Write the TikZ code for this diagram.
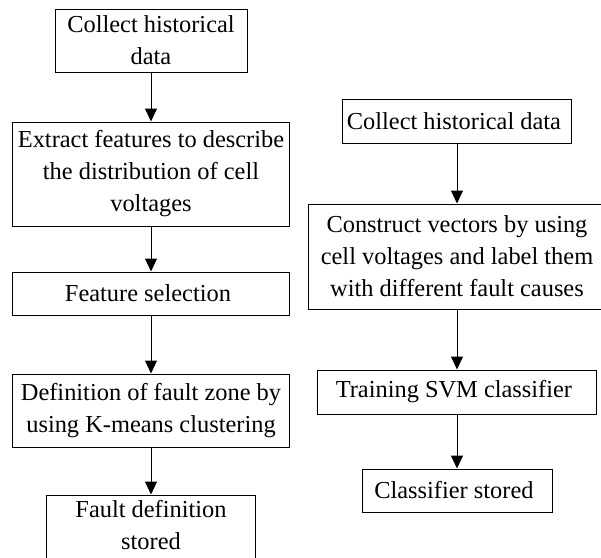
\documentclass[tikz,border=0pt]{standalone}
\usepackage{fontspec}
\setmainfont{Liberation Serif}
\usepackage{tikz}
\usetikzlibrary{arrows.meta,positioning}
\tikzset{
  flow/.style={
    draw,line width=0.5pt,fill=white,
    inner sep=2pt,align=center,
    font=\fontsize{12.2pt}{16pt}\selectfont
  },
  arrow/.style={-{Triangle[length=6.5pt,width=6pt]},line width=0.5pt}
}
\begin{document}
\begin{tikzpicture}
      \useasboundingbox (0,0) rectangle (300.5pt,-279pt);
      \clip (0,0) rectangle (300.5pt,-279pt);
      % left column
      \node[flow,minimum width=96pt,minimum height=31.5pt] (one) at (75.5pt,-20.25pt) {
        Collect historical\\data
      };
      \node[flow,minimum width=138.5pt,minimum height=52pt,below=24.5pt of one] (two) {
        Extract features to describe\\the distribution of cell\\voltages
      };
      \node[flow,minimum width=138.5pt,minimum height=21.5pt,below=22.5pt of two] (three) {
        Feature selection
      };
      \node[flow,minimum width=138.5pt,minimum height=36.5pt,below=29pt of three] (four) {
        Definition of fault zone by\\using K-means clustering
      };
      \node[flow,minimum width=104.5pt,minimum height=36pt,text depth=6pt,below=23.5pt of four] (five) {
        Fault definition\\stored
      };
      % right column
      \node[flow,minimum width=113.5pt,minimum height=22pt] (rone) at (228.5pt,-60.5pt) {
        Collect historical data
      };
      \node[flow,minimum width=149pt,minimum height=52.5pt,below=30pt of rone] (rtwo) {
        Construct vectors by using\\cell voltages and label them\\with different fault causes
      };
      \node[flow,minimum width=139.5pt,minimum height=22pt,below=30pt of rtwo] (rthree) {
        Training SVM classifier
      };
      \node[flow,minimum width=95pt,minimum height=21.5pt,below=27pt of rthree] (rfour) {
        Classifier stored
      };
      \draw[arrow] (one) -- (two);
      \draw[arrow] (two) -- (three);
      \draw[arrow] (three) -- (four);
      \draw[arrow] (four) -- (five);
      \draw[arrow] (rone) -- (rtwo);
      \draw[arrow] (rtwo) -- (rthree);
      \draw[arrow] (rthree) -- (rfour);
    \end{tikzpicture}
\end{document}
